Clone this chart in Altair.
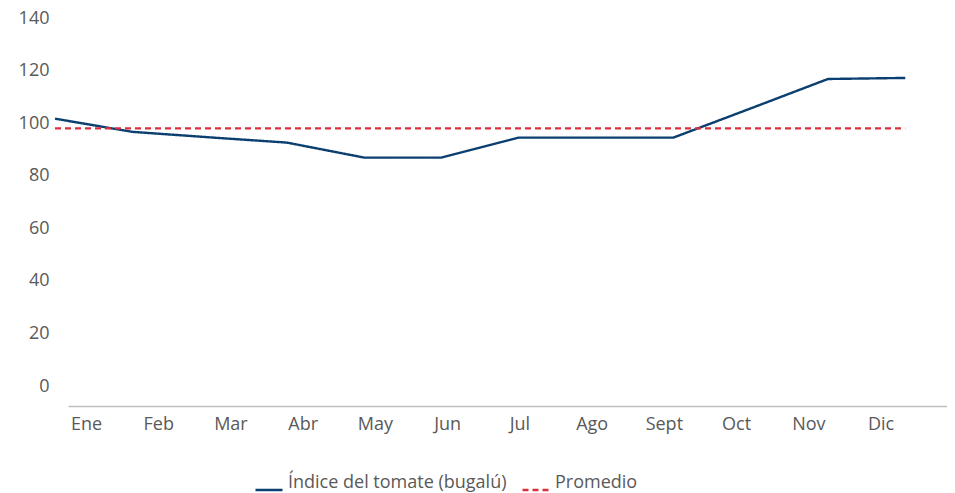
import altair as alt
import pandas as pd

months = ["Ene", "Feb", "Mar", "Abr", "May", "Jun", "Jul", "Ago", "Sept", "Oct", "Nov", "Dic"]
indice = [101.7, 96.7, 94.6, 92.6, 86.9, 86.9, 94.5, 94.5, 94.5, 105.6, 116.8, 117.2]
promedio = [98.0] * 12
series_names = ["Índice del tomate (bugalú)", "Promedio"]
y_ticks = [0, 20, 40, 60, 80, 100, 120, 140]

rows = []
for i, m in enumerate(months):
    rows.append({"idx": i, "mes": m, "valor": indice[i], "serie": series_names[0]})
for i, m in enumerate(months):
    rows.append({"idx": i, "mes": m, "valor": promedio[i], "serie": series_names[1]})
df = pd.DataFrame(rows)
lab = pd.DataFrame({"pos": list(range(len(months))), "mes": months})

FONT = "Open Sans"
FS = 18
GREY = "#595959"
NAVY = "#0a3f70"
RED = "#d8303c"

label_expr = "[" + ",".join("'" + m + "'" for m in months) + "][datum.value]"

yscale = alt.Scale(domain=[-7.6, 140], nice=False, zero=False)
yaxis = alt.Axis(values=y_ticks, ticks=False, grid=False, domain=False,
                 labelPadding=19, labelFontSize=FS, labelColor=GREY,
                 labelFont=FONT, title=None)

# axis layer: carries the month labels and the baseline
axis_layer = alt.Chart(lab).mark_point(opacity=0).encode(
    x=alt.X("pos:Q",
            scale=alt.Scale(domain=[-0.249, 11.92], nice=False, zero=False),
            axis=alt.Axis(values=list(range(len(months))), labelExpr=label_expr,
                          ticks=False, grid=False, domain=True, domainColor="#bfbfbf",
                          domainWidth=1.5, labelPadding=9, labelFontSize=FS,
                          labelColor=GREY, labelFont=FONT, title=None,
                          labelFlush=False, labelOverlap=False)),
    y=alt.Y("pos:Q", scale=yscale, axis=yaxis),
)

lines = alt.Chart(df).mark_line(strokeWidth=2.4, clip=False).encode(
    x=alt.X("idx:Q", scale=alt.Scale(domain=[0.168, 11.54], nice=False, zero=False), axis=None),
    y=alt.Y("valor:Q", scale=yscale, axis=yaxis),
    color=alt.Color("serie:N",
                    scale=alt.Scale(domain=series_names, range=[NAVY, RED]),
                    legend=alt.Legend(orient="none", legendX=186, legendY=450,
                                      direction="horizontal", title=None,
                                      labelFontSize=FS, labelColor=GREY, labelFont=FONT,
                                      labelLimit=0,
                                      symbolType="M -1 0.5 L 1 0.5", symbolSize=729,
                                      symbolStrokeWidth=2.4, labelOffset=4,
                                      columnPadding=10)),
    strokeDash=alt.StrokeDash("serie:N",
                              scale=alt.Scale(domain=series_names, range=[[1, 0], [6, 4]]),
                              legend=None),
    detail="serie:N",
)

chart = alt.layer(axis_layer, lines).resolve_scale(x="independent").properties(
    width=879, height=388,
    autosize=alt.AutoSizeParams(type="none"),
    padding={"left": 60, "top": 10, "right": 0, "bottom": 86},
).configure_view(stroke=None)

chart.save("out.html", embed_options={"renderer": "svg", "actions": False})
